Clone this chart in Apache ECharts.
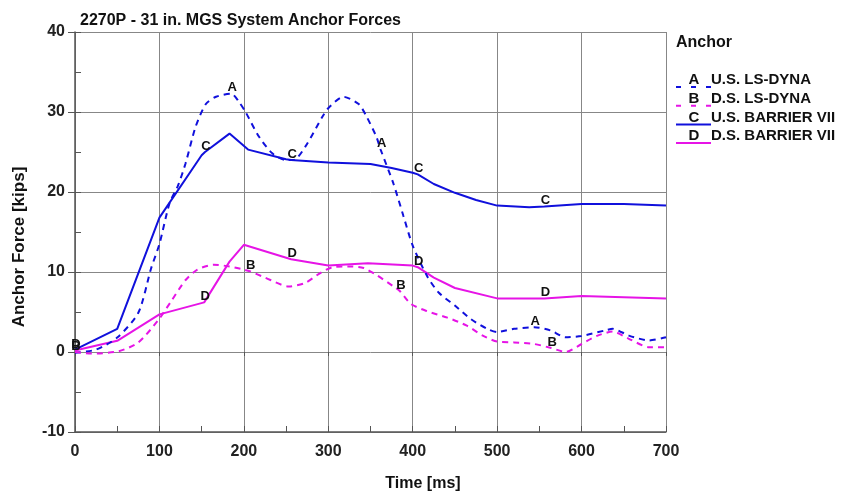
<!DOCTYPE html>
<html>
<head>
<meta charset="utf-8">
<script src="https://cdn.jsdelivr.net/npm/echarts@6/dist/echarts.min.js"></script>
<style>
  html, body { margin: 0; padding: 0; background: #fff; }
  #chart { width: 842px; height: 492px; }
</style>
</head>
<body>
<div id="chart"></div>
<script>
// Anchor force histories, time in ms, force in kips
const timeA = [0, 25, 50, 75, 90, 100, 112, 122, 131, 143, 155, 167, 185, 194, 202, 218, 234, 250, 259, 273, 293, 301, 318, 336, 345, 357, 362, 377, 389, 400, 417, 431, 450, 469, 488, 500, 520, 544, 563, 581, 600, 628, 637, 656, 680, 700];
const forceA = [-0.1, 0.3, 1.8, 4.9, 10.4, 13.5, 18.6, 20.8, 23.6, 28.2, 31.0, 31.9, 32.3, 31.3, 30.0, 26.9, 24.8, 24.0, 24.0, 25.7, 29.4, 30.6, 31.9, 31.0, 29.5, 26.9, 25.3, 21.1, 17.0, 13.3, 9.5, 7.4, 5.8, 4.1, 2.9, 2.5, 2.9, 3.1, 2.7, 1.85, 2.0, 2.7, 2.9, 2.05, 1.45, 1.85];

const timeB = [0, 19, 52, 75, 98, 113, 131, 145, 164, 183, 200, 207, 225, 253, 272, 291, 305, 328, 342, 356, 380, 385, 398, 417, 441, 464, 483, 500, 520, 544, 564, 581, 600, 619, 637, 656, 680, 700];
const forceB = [0, -0.2, 0.1, 1.2, 3.9, 6.2, 9.0, 10.3, 10.9, 10.7, 10.3, 10.1, 9.3, 8.2, 8.6, 9.9, 10.6, 10.7, 10.5, 9.7, 8.0, 7.6, 6.0, 5.1, 4.3, 3.3, 2.05, 1.3, 1.2, 1.0, 0.5, 0, 1.0, 2.05, 2.55, 1.65, 0.6, 0.6];

const timeC = [0, 50, 100, 150, 154, 183, 205, 250, 256, 300, 350, 375, 400, 406, 425, 450, 475, 500, 538, 556, 600, 650, 700];
const forceC = [0.3, 2.9, 16.8, 24.6, 25.0, 27.3, 25.3, 24.1, 24.0, 23.7, 23.5, 23.0, 22.4, 22.2, 21.0, 19.9, 19.0, 18.3, 18.1, 18.2, 18.5, 18.5, 18.3];

const timeD = [0, 50, 100, 153, 183, 200, 256, 300, 347, 400, 406, 425, 450, 500, 556, 600, 700];
const forceD = [0.2, 1.4, 4.7, 6.2, 11.3, 13.4, 11.6, 10.8, 11.1, 10.8, 10.6, 9.3, 8.0, 6.7, 6.7, 7.0, 6.7];

// times at which each curve carries its identifying letter
const letterTimesA = [185, 362, 544];
const letterTimesB = [0, 207, 385, 564];
const letterTimesC = [154, 256, 406, 556];
const letterTimesD = [0, 153, 256, 406, 556];

const seriesNames = ['U.S. LS-DYNA', 'D.S. LS-DYNA', 'U.S. BARRIER VII', 'D.S. BARRIER VII'];
const seriesLetters = ['A', 'B', 'C', 'D'];

const yTicks = [-10, 0, 10, 20, 30, 40];
const xTicks = [0, 100, 200, 300, 400, 500, 600, 700];

const BLUE = '#1010dc';
const MAGENTA = '#e614e6';
const FONT = '"Liberation Sans", Arial, sans-serif';

function buildData(times, values, letterTimes) {
  return times.map((t, i) => ({
    value: [t, values[i]],
    label: { show: letterTimes.indexOf(t) >= 0 }
  }));
}

function lineSeries(idx, times, values, letterTimes, color, dashed) {
  const letter = seriesLetters[idx];
  return {
    name: seriesNames[idx],
    type: 'line',
    data: buildData(times, values, letterTimes),
    symbol: 'circle',
    symbolSize: 0,
    showSymbol: true,
    smooth: dashed ? 0.25 : false,
    lineStyle: { color: color, width: 2, type: dashed ? [6, 5] : 'solid' },
    itemStyle: { color: color },
    label: {
      show: false,
      position: 'inside',
      offset: [1, -6],
      formatter: () => letter,
      color: '#111',
      fontFamily: FONT,
      fontWeight: 'bold',
      fontSize: 13
    },
    emphasis: { disabled: true },
    animation: false
  };
}

const axisLabelStyle = { color: '#222', fontFamily: FONT, fontWeight: 'bold', fontSize: 16 };

// legend block drawn at the right of the plot
const legendTop = 80, legendStep = 18.7, legendLeft = 676;
const legendItems = [];
seriesLetters.forEach((letter, i) => {
  const y = legendTop + i * legendStep;
  const color = i % 2 === 0 ? BLUE : MAGENTA;
  const dashed = i < 2;
  legendItems.push({
    type: 'line',
    shape: { x1: legendLeft, y1: y + 7, x2: legendLeft + 35, y2: y + 7 },
    style: { stroke: color, lineWidth: 2, lineDash: dashed ? [5, 10] : null }
  });
  legendItems.push({
    type: 'text',
    x: legendLeft + 18, y: y,
    style: { text: letter, fill: '#111', font: 'bold 15px ' + FONT, align: 'center', verticalAlign: 'middle' }
  });
  legendItems.push({
    type: 'text',
    x: legendLeft + 35, y: y,
    style: { text: seriesNames[i], fill: '#111', font: 'bold 15px ' + FONT, align: 'left', verticalAlign: 'middle' }
  });
});
legendItems.push({
  type: 'text',
  x: legendLeft, y: 43,
  style: { text: 'Anchor', fill: '#111', font: 'bold 16px ' + FONT, align: 'left', verticalAlign: 'middle' }
});

const chart = echarts.init(document.getElementById('chart'), null, { renderer: 'canvas' });
chart.setOption({
  backgroundColor: '#fff',
  animation: false,
  title: {
    text: '2270P - 31 in. MGS System Anchor Forces',
    left: 75, top: 8,
    textStyle: { color: '#111', fontFamily: FONT, fontWeight: 'bold', fontSize: 16 }
  },
  grid: { left: 75, right: 176, top: 32, bottom: 60, containLabel: false, outerBoundsMode: 'none' },
  xAxis: [{
    type: 'value',
    min: xTicks[0], max: xTicks[xTicks.length - 1], interval: 100,
    name: 'Time [ms]',
    nameLocation: 'middle',
    nameGap: 44,
    nameTextStyle: { color: '#111', fontFamily: FONT, fontWeight: 'bold', fontSize: 16, padding: [0, 0, 0, 105] },
    axisLine: { show: true, onZero: false, lineStyle: { color: '#555', width: 1.5 } },
    axisTick: { show: true, inside: true, length: 6, lineStyle: { color: '#555' } },
    minorTick: { show: true, splitNumber: 2, length: 6, lineStyle: { color: '#555' } },
    splitLine: { show: true, lineStyle: { color: '#878787', width: 1 } },
    minorSplitLine: { show: false },
    axisLabel: Object.assign({ margin: 12, formatter: v => String(v) }, axisLabelStyle)
  }, {
    type: 'value',
    min: xTicks[0], max: xTicks[xTicks.length - 1], interval: 100,
    position: 'bottom',
    axisLine: { show: false },
    axisTick: { show: true, inside: false, length: 4, lineStyle: { color: '#555' } },
    axisLabel: { show: false },
    splitLine: { show: false }
  }],
  yAxis: [{
    type: 'value',
    min: yTicks[0], max: yTicks[yTicks.length - 1], interval: 10,
    name: 'Anchor Force [kips]',
    nameLocation: 'middle',
    nameGap: 47,
    nameRotate: 90,
    nameTextStyle: { color: '#111', fontFamily: FONT, fontWeight: 'bold', fontSize: 17, padding: [0, 30, 0, 0] },
    axisLine: { show: true, onZero: false, lineStyle: { color: '#555', width: 1.5 } },
    axisTick: { show: true, inside: true, length: 6, lineStyle: { color: '#555' } },
    minorTick: { show: true, splitNumber: 2, length: 6, lineStyle: { color: '#555' } },
    splitLine: { show: true, lineStyle: { color: '#878787', width: 1 } },
    minorSplitLine: { show: false },
    axisLabel: Object.assign({ margin: 10, formatter: v => String(v) }, axisLabelStyle)
  }, {
    type: 'value',
    min: yTicks[0], max: yTicks[yTicks.length - 1], interval: 10,
    position: 'left',
    offset: 0,
    axisLine: { show: false },
    axisTick: { show: true, inside: false, length: 7, lineStyle: { color: '#555' } },
    axisLabel: { show: false },
    splitLine: { show: false }
  }],
  graphic: legendItems,
  series: [
    lineSeries(2, timeC, forceC, letterTimesC, BLUE, false),
    lineSeries(3, timeD, forceD, letterTimesD, MAGENTA, false),
    lineSeries(0, timeA, forceA, letterTimesA, BLUE, true),
    lineSeries(1, timeB, forceB, letterTimesB, MAGENTA, true)
  ]
});
</script>
</body>
</html>
